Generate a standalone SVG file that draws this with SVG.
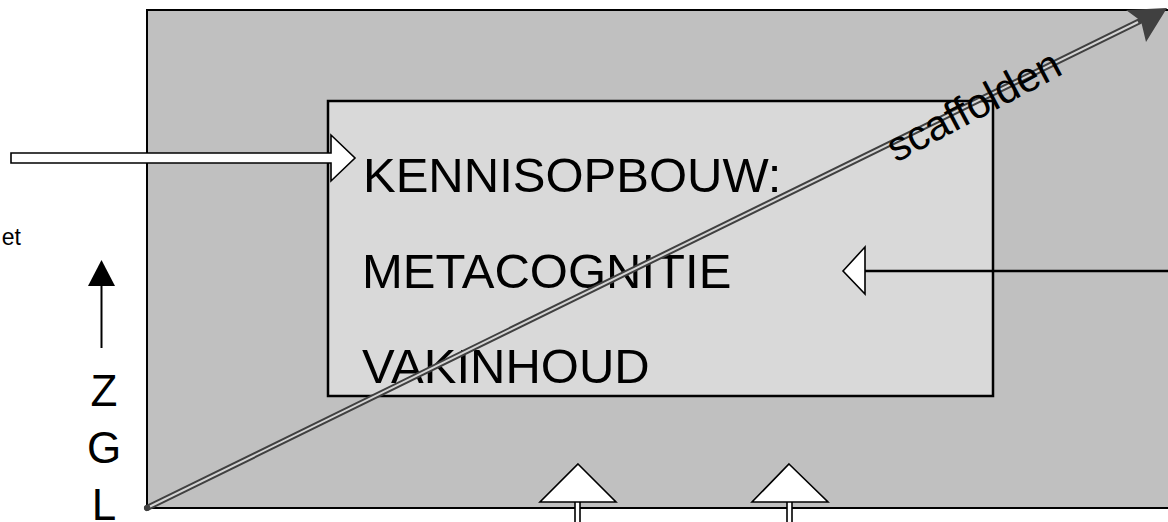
<svg xmlns="http://www.w3.org/2000/svg" width="1168" height="522" viewBox="0 0 1168 522">
<style>
.t{font-family:"Liberation Sans",Arial,sans-serif;fill:#000}
.big{font-size:49px}
.blk{fill:#fff;stroke:#000;stroke-width:1.6}
</style>
<rect width="1168" height="522" fill="#fff"/>
<g id="outer"><rect x="147" y="10" width="1030" height="498" fill="#c0c0c0" stroke="#000" stroke-width="2"/></g>
<g id="inner">
<rect x="328" y="101" width="665" height="295" fill="#d9d9d9" stroke="#000" stroke-width="2.5"/>
<text class="t big" x="363" y="192">KENNISOPBOUW:</text>
<text class="t big" x="362" y="288">METACOGNITIE</text>
<text class="t big" x="362" y="383">VAKINHOUD</text>
</g>
<g id="left-labels">
<text class="t" x="21" y="245" font-size="23" text-anchor="end">et</text>
<text class="t" x="104" y="406" font-size="44" text-anchor="middle">Z</text>
<text class="t" x="104" y="463" font-size="44" text-anchor="middle">G</text>
<text class="t" x="104" y="520" font-size="44" text-anchor="middle">L</text>
</g>
<g id="connectors">
<polygon class="blk" points="11,153 331,153 331,135 355,158 331,181 331,163 11,163"/>
<line x1="101.5" y1="284" x2="101.5" y2="348" stroke="#000" stroke-width="2"/>
<polygon points="88,286 115,286 101.5,260" fill="#000"/>
<line x1="865" y1="271" x2="1168" y2="271" stroke="#000" stroke-width="2.5"/>
<polygon class="blk" points="843,271 865,247 865,294"/>
<rect class="blk" x="575" y="500" width="5" height="24"/>
<polygon class="blk" points="578,464 616,502 540,502"/>
<rect class="blk" x="787" y="500" width="5" height="24"/>
<polygon class="blk" points="789,464 828,502 752,502"/>
<g id="diagonal">
<line x1="147" y1="508" x2="1140" y2="21" stroke="#404040" stroke-width="6" stroke-linecap="round"/>
<line x1="150" y1="506.5" x2="1138" y2="22" stroke="#d4d4d4" stroke-width="2"/>
<polygon points="1167,8 1126,10 1141,21 1146,42" fill="#404040"/>
<circle cx="147" cy="508" r="3" fill="#404040"/>
</g>
</g>
<g id="label-scaffolden"><text class="t" font-size="42" transform="translate(896,163) rotate(-28)">scaffolden</text></g>
</svg>
